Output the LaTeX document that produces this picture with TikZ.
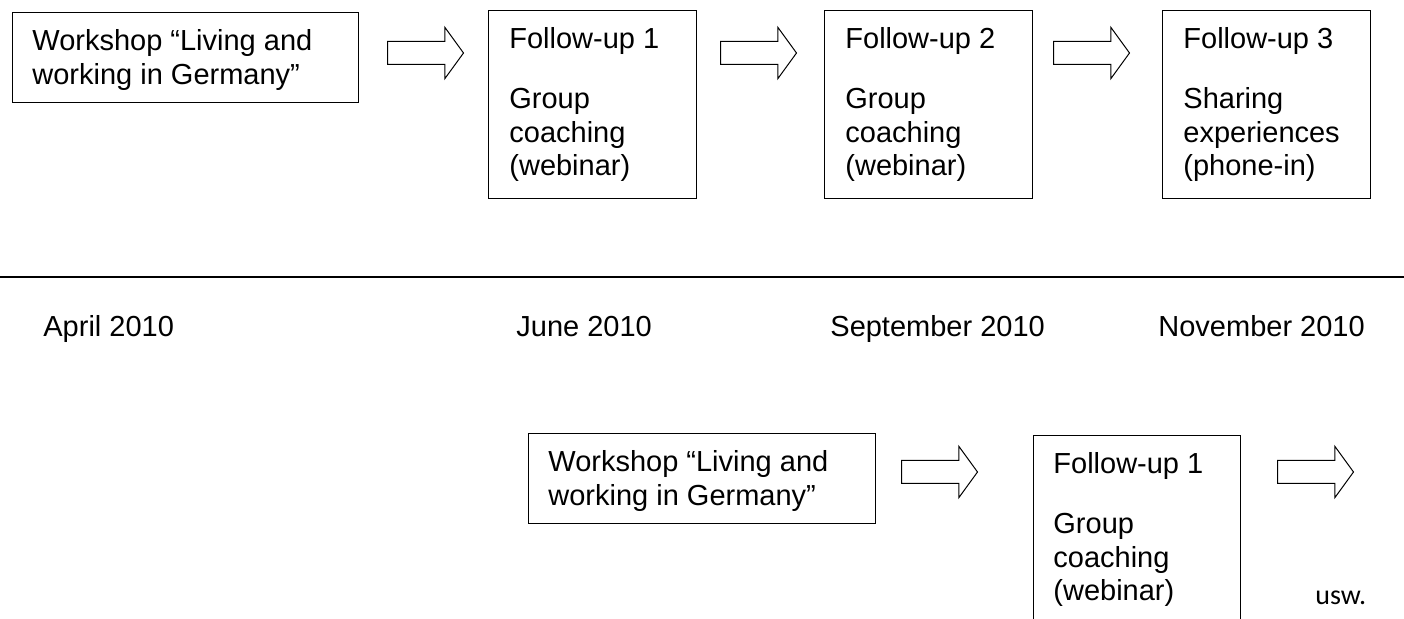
\documentclass[tikz,border=0pt]{standalone}
\usepackage{fontspec}
\setmainfont{Liberation Sans}
\newfontfamily\uswfont{Carlito}
\usetikzlibrary{shapes.arrows}

\begin{document}
\begin{tikzpicture}
[x=0.5pt, y=-0.5pt,
 box/.style={draw, line width=0.7pt, anchor=north west, inner sep=0},
 txt/.style={anchor=north west, inner sep=0, align=left, font=\fontsize{14.5}{16.75}\selectfont},
 date/.style={anchor=base west, inner sep=0, font=\fontsize{14.5}{16.75}\selectfont},
 blockarrow/.style={draw, line width=0.5pt, single arrow, single arrow head extend=7pt,
   single arrow tip angle=108, minimum width=25pt, minimum height=38pt,
   inner xsep=0, inner ysep=5.5pt, anchor=tail}]
  \useasboundingbox (0,0) rectangle (1404,619);
  \clip (0,0) rectangle (1404,619);

  % first round
  \node[box, minimum width=173pt, minimum height=45pt] (ws1) at (12,12) {};
  \node[txt] (ws1t) at ([xshift=10pt,yshift=-8.6pt]ws1.north west) {Workshop “Living and\\working in Germany”};

  \foreach \x/\n/\a/\b/\c in {488/1/Group/coaching/(webinar),
                              824/2/Group/coaching/(webinar),
                              1162/3/Sharing/experiences/(phone-in)}
  {
    \node[box, minimum width=104pt, minimum height=94pt] (fu\n) at (\x,10) {};
    \node[txt] (fu\n t) at ([xshift=10.5pt,yshift=-8.6pt]fu\n.north west) {Follow-up \n\\[13.25pt]\a\\\b\\\c};
  }

  \foreach \x [count=\i] in {387,720,1053}
    \node[blockarrow] (ar\i) at (\x,53) {};

  % time line
  \draw[line width=1.1pt] (0,277) -- (1404,277);
  \node[date] (apr) at (43,337) {April 2010};
  \node[date] (jun) at (516,337) {June 2010};
  \node[date] (sep) at (830,337) {September 2010};
  \node[date] (nov) at (1158,337) {November 2010};

  % second round
  \node[box, minimum width=173.5pt, minimum height=45pt] (ws2) at (528,433) {};
  \node[txt] (ws2t) at ([xshift=10pt,yshift=-8.6pt]ws2.north west) {Workshop “Living and\\working in Germany”};
  \node[blockarrow] (ar4) at (901,472) {};

  \node[box, minimum width=103.5pt, minimum height=120pt] (fu4) at (1033,435) {};
  \node[txt] (fu4t) at ([xshift=10pt,yshift=-8.6pt]fu4.north west) {Follow-up 1\\[13.25pt]Group\\coaching\\(webinar)};
  \node[blockarrow] (ar5) at (1277,472) {};

  \node[anchor=base west, inner sep=0, font=\uswfont\fontsize{14}{16}\selectfont] (usw) at (1315,605) {usw.};
\end{tikzpicture}
\end{document}
